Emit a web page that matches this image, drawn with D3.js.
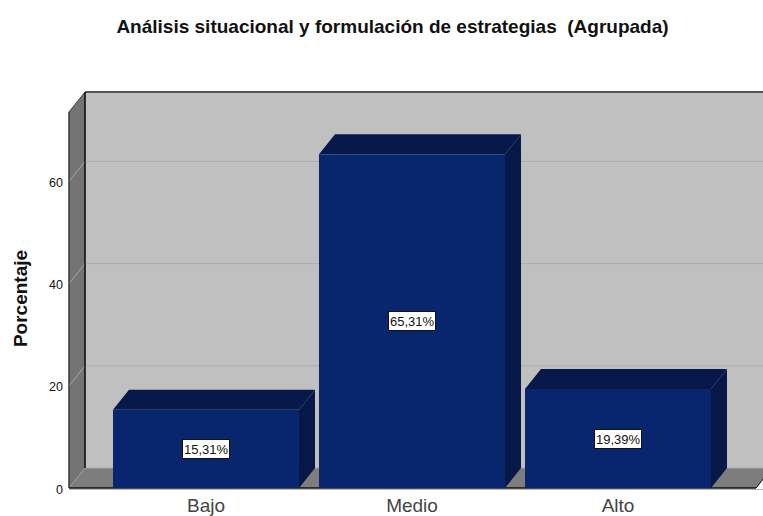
<!DOCTYPE html>
<html>
<head>
<meta charset="utf-8">
<script src="https://cdn.jsdelivr.net/npm/d3@7/dist/d3.min.js"></script>
<style>
html,body{margin:0;padding:0;background:#fff;overflow:hidden}
svg{display:block}
text{font-family:"Liberation Sans",Arial,sans-serif}
</style>
</head>
<body>
<svg id="c" width="763" height="516"></svg>
<script>
const categories = ["Bajo", "Medio", "Alto"];
const percentages = [15.31, 65.31, 19.39];
const valueLabels = ["15,31%", "65,31%", "19,39%"];
const yTicks = [0, 20, 40, 60];
const titleText = "Análisis situacional y formulación de estrategias  (Agrupada)";
const yTitle = "Porcentaje";

const svg = d3.select("#c");
const depthX = 16, depthY = 20;
const y = d3.scaleLinear().domain([0, 73.6]).range([488, 112]);
const x = d3.scaleBand().domain(categories).range([103, 721]).paddingInner(0.097).paddingOuter(0.0485);
const left = 69, right = 756;
const poly = pts => pts.map(p => p.join(",")).join(" ");

// back wall
svg.append("polygon")
  .attr("points", poly([[left+depthX,y.range()[1]-depthY],[right+depthX,y.range()[1]-depthY],[right+depthX,y(0)-depthY],[left+depthX,y(0)-depthY]]))
  .attr("fill", "#c0c0c0");
svg.append("line").attr("x1", left+depthX).attr("x2", 763).attr("y1", 92).attr("y2", 92)
  .attr("stroke", "#555").attr("stroke-width", 2);
// left wall
svg.append("polygon")
  .attr("points", poly([[left,y.range()[1]],[left+depthX,y.range()[1]-depthY],[left+depthX,y(0)-depthY],[left,y(0)]]))
  .attr("fill", "#747474").attr("stroke", "#3c3c3c").attr("stroke-width", 1);
// floor
svg.append("polygon")
  .attr("points", poly([[left,y(0)],[left+depthX,y(0)-depthY],[right+depthX,y(0)-depthY],[right,y(0)]]))
  .attr("fill", "#7d7d7d");
svg.append("line").attr("x1", left+depthX).attr("x2", 763).attr("y1", 468).attr("y2", 468).attr("stroke", "#a8a8a8");

// gridlines
const grid = yTicks.filter(d => d > 0);
svg.selectAll(".gw").data(grid).join("line").attr("class","gw")
  .attr("x1", left+depthX).attr("x2", 763)
  .attr("y1", d => y(d)-depthY).attr("y2", d => y(d)-depthY)
  .attr("stroke", "#adadad").attr("stroke-width", 1);
svg.selectAll(".gs").data(grid).join("line").attr("class","gs")
  .attr("x1", left).attr("x2", left+depthX)
  .attr("y1", d => y(d)).attr("y2", d => y(d)-depthY)
  .attr("stroke", "#a6a6a6").attr("stroke-width", 1);
svg.append("line").attr("x1", left).attr("x2", left+depthX).attr("y1", y(0)).attr("y2", y(0)-depthY)
  .attr("stroke", "#a6a6a6");

// wall edge and axis lines
svg.append("line").attr("x1", left+depthX).attr("x2", left+depthX).attr("y1", 92).attr("y2", 468)
  .attr("stroke", "#111").attr("stroke-width", 1.4);
svg.append("line").attr("x1", left).attr("x2", left).attr("y1", 112).attr("y2", 488)
  .attr("stroke", "#333").attr("stroke-width", 1);
svg.append("line").attr("x1", left).attr("x2", right).attr("y1", 488).attr("y2", 488)
  .attr("stroke", "#111").attr("stroke-width", 1.4);
svg.append("line").attr("x1", right).attr("x2", right+8).attr("y1", 488).attr("y2", 478)
  .attr("stroke", "#111").attr("stroke-width", 1);
svg.append("line").attr("x1", left).attr("x2", 763).attr("y1", 489.5).attr("y2", 489.5)
  .attr("stroke", "#b5b5b5").attr("stroke-width", 1);

// bars
const bars = svg.selectAll(".bar").data(categories.map((c,i) => ({c, v: percentages[i], l: valueLabels[i]}))).join("g").attr("class","bar");
bars.append("polygon").attr("fill", "#06194a")
  .attr("points", d => { const a=x(d.c), b=a+x.bandwidth(), t=y(d.v);
    return poly([[a,t],[a+depthX,t-depthY],[b+depthX,t-depthY],[b,t]]); });
bars.append("polygon").attr("fill", "#051847")
  .attr("points", d => { const b=x(d.c)+x.bandwidth(), t=y(d.v);
    return poly([[b,t],[b+depthX,t-depthY],[b+depthX,y(0)-depthY],[b,y(0)]]); });
bars.append("rect").attr("fill", "#08266e")
  .attr("x", d => x(d.c)).attr("width", x.bandwidth())
  .attr("y", d => y(d.v)).attr("height", d => y(0)-y(d.v));

// value labels (snapped to whole pixels so the box outline stays crisp)
const boxW = 48, boxH = 20;
const lab = bars.append("g")
  .attr("transform", d => `translate(${Math.round(x(d.c)+x.bandwidth()/2)},${Math.round(d.v>50 ? (y(d.v)+y(0))/2 : 439+ (d.c==="Bajo"?10:0))})`);
lab.append("rect").attr("x", -boxW/2+0.5).attr("y", -boxH/2+0.5).attr("width", boxW-1).attr("height", boxH-1)
  .attr("fill", "#fff").attr("stroke", "#111").attr("stroke-width", 1);
lab.append("text").attr("text-anchor","middle").attr("dy","0.36em").attr("font-size", 13).attr("fill","#111").text(d => d.l);

// y ticks
const yAxis = d3.axisLeft(y).tickValues(yTicks).tickSize(0).tickFormat(d3.format("d"));
const gy = svg.append("g").attr("transform", `translate(${left-6},1)`).call(yAxis);
gy.select(".domain").remove();
gy.selectAll("text").attr("font-size", 12.5).attr("fill", "#111").attr("font-family", '"Liberation Sans",Arial,sans-serif').attr("dy","0.32em").attr("x",0);

// x labels
const xAxis = d3.axisBottom(x).tickSize(0);
const gx = svg.append("g").attr("transform", "translate(0,488)").call(xAxis);
gx.select(".domain").remove();
gx.selectAll("text").attr("font-size", 19).attr("fill", "#444").attr("font-family", '"Liberation Sans",Arial,sans-serif').attr("y", 11).attr("dy","0.71em");

// titles
svg.append("text").attr("x", 392.5).attr("y", 33).attr("text-anchor","middle")
  .attr("font-size", 19).attr("font-weight","bold").attr("fill","#111").style("white-space","pre").text(titleText);
svg.append("text").attr("transform","translate(26.5,298.5) rotate(-90)").attr("text-anchor","middle")
  .attr("font-size", 19).attr("font-weight","bold").attr("fill","#111").text(yTitle);
</script>
</body>
</html>
